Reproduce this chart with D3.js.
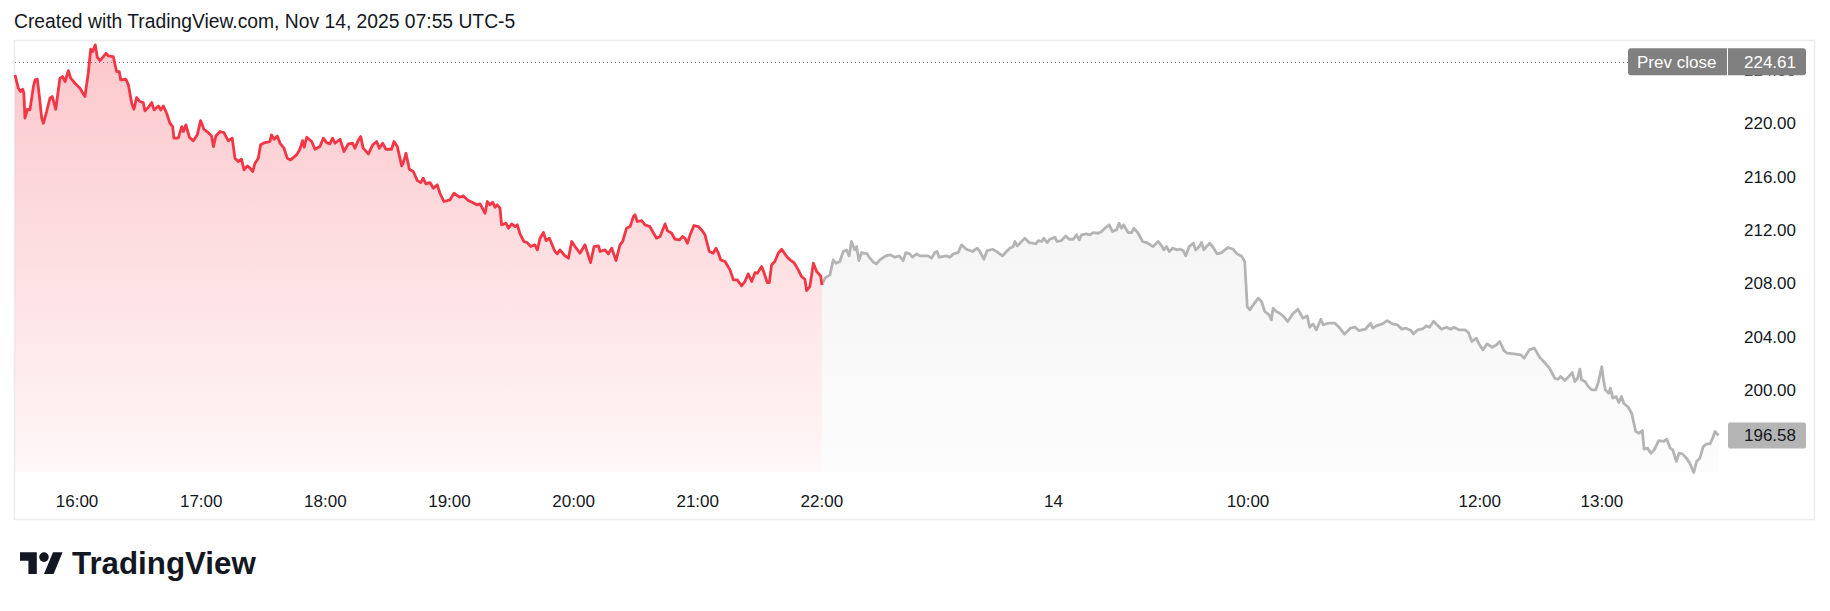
<!DOCTYPE html>
<html lang="en">
<head>
  <meta charset="utf-8">
  <script src="https://cdnjs.cloudflare.com/ajax/libs/d3/7.8.5/d3.min.js"></script>
  <style>
    body {
      margin: 0;
      background: #fff;
      font-family: "Liberation Sans", Arial, sans-serif;
    }
    .axis-label {
      font-size: 17px;
      fill: #131722;
    }
    #title {
      font-size: 19.3px;
      fill: #131722;
    }
  </style>
</head>
<body>
  <svg id="chart" width="1830" height="611"></svg>
  <script>
    // bar index (minutes from first bar, TradingView style) and price
    var regularSession = [[0,223.63],[1.6,222.63],[2.7,222.38],[3.7,222.55],[4.3,222.25],[4.8,220.38],[6,221.05],[7.2,221],[8.9,222.75],[9.7,223.25],[10.8,223.3],[11.8,222],[12.9,220.38],[13.7,220],[15.3,220.88],[16.9,221.88],[18,222],[19.7,221.05],[21.7,223.38],[23,223.5],[24.2,223.13],[25.8,223.95],[26.9,223.38],[29,223],[31.4,222.63],[33.8,222],[35.4,223.75],[36.6,225.55],[37.5,225.38],[38.8,225.88],[39.8,224.95],[41.1,224.7],[42.7,225],[44,225.25],[45.1,225.05],[47.5,225],[49.1,223.88],[50.4,223.88],[51.1,223.25],[53.6,223.3],[54.8,222.88],[56.4,221.5],[57.5,221.05],[58.8,221.93],[60.4,221.63],[62,221.55],[62.8,220.93],[64.4,221.18],[66.1,221.55],[67.2,221],[69.3,221.3],[70.4,221],[71.7,221.3],[73.3,220.75],[74.9,220],[76.2,219.75],[76.8,218.88],[78.9,218.88],[80.6,219.75],[81.4,219.38],[82.6,219.88],[84.3,218.95],[86.2,218.68],[88.1,219.13],[89.7,220.2],[91.3,219.55],[93.4,219.3],[95,219.05],[95.9,218.25],[97.1,219.05],[99.1,219.38],[101,219.3],[103.1,218.68],[105,218.88],[106.3,217.38],[107.9,217.13],[109.5,217.3],[110.7,216.5],[112.3,216.8],[113.6,216.63],[114.9,216.38],[116,217],[117.6,217.38],[118.7,218.38],[120.8,218.55],[123.2,218.63],[124,219.13],[125.2,218.8],[126.8,219.05],[128.1,218.5],[130,218.13],[131.6,217.38],[133.2,217.25],[136.1,217.63],[137.7,218.05],[139,218.7],[139.8,218.2],[141,218.95],[143.4,218.63],[145,218.05],[147.4,218.25],[149,218.88],[150.6,218.55],[152.2,218.45],[153.5,218.88],[154.7,218.5],[157.1,218.8],[159,217.88],[161.1,218.45],[163.2,218.5],[164.3,218.13],[165.9,218.7],[167.1,219],[168.3,218.13],[170.8,217.7],[172.9,218.38],[174.8,218.63],[176.1,218.13],[177.7,218.5],[179.3,218.05],[182,218.05],[183.2,218.63],[184.8,218.25],[186.9,216.8],[187.7,217.05],[189,217.75],[190.6,216.55],[192.5,216.38],[194.5,215.7],[196.1,215.55],[197.3,215.88],[198.6,215.45],[200.6,215.55],[202.2,215.13],[204.1,215.38],[205.4,214.75],[207.3,214.13],[210.2,214.25],[212.2,214.75],[214.8,214.45],[216.7,214.55],[219.1,214.2],[221.2,214.05],[223.2,213.88],[224.8,213.95],[227.2,213.25],[228.3,214.13],[229.6,213.88],[230.9,214.08],[232,213.7],[233.1,213.88],[234.4,213.63],[235.2,212.38],[237.3,212.5],[238.5,212.13],[240.1,212.45],[241.7,212.25],[242.8,212.38],[244.1,211.7],[246,211.13],[247.6,211.05],[249.3,210.75],[251.3,210.88],[252.5,210.5],[253.8,211.38],[255.4,211.8],[256.7,211.2],[258.3,211.38],[261,210.38],[262.1,210.2],[263.4,210.5],[265.8,210.05],[267.5,209.88],[269.1,211.13],[270.7,210.75],[273.1,210.25],[275.5,210.88],[278.2,209.55],[279.9,210.75],[282,210.8],[282.8,210.38],[285.2,210.5],[286.8,210.2],[288.4,210.63],[290.5,209.7],[292.4,210.88],[293.7,211.13],[295.6,212.13],[297.3,212.25],[298.9,213],[299.7,213.13],[300.8,212.63],[302.9,212.7],[304.5,212.38],[306.9,212.25],[308.2,211.88],[310.1,211.38],[311.8,211.5],[314.2,212.45],[315.3,211.95],[317.4,211.75],[319,211.3],[321.1,211.25],[322.7,211.5],[323.8,211.38],[325,211],[326.3,211.63],[328.2,212.33],[330.3,212.25],[331.9,212],[333.5,211.63],[335.6,210.38],[337.5,210.25],[338.8,210.63],[340,210.25],[341.1,209.75],[343.2,209.63],[345.6,209],[347.2,208.25],[349.1,208.25],[351.2,207.8],[352.8,208.13],[354.4,208.7],[356.1,208.13],[357.7,208.8],[358.8,208.75],[360.9,209.25],[362,208.8],[363.6,208.05],[364.6,208.05],[365.7,209.38],[367.3,209.63],[368.9,210.25],[370.6,210.55],[373,210],[374.6,209.75],[376.5,209.55],[378.6,209],[380.2,208.5],[381.8,208.3],[382.6,207.45],[384.2,207.75],[385.9,209.5],[387.5,208.88],[389.4,208.55],[390,207.88]];

    var extendedSession = [[390,207.88],[391.5,208.38],[393.9,208.63],[395.5,209.75],[396.8,209.5],[398.7,209.63],[400.3,210.38],[401.9,210.5],[403.2,210.05],[404.3,211.13],[405.9,210.5],[406.8,210.75],[407.9,209.7],[409.2,210.3],[411.9,210.2],[413.2,209.88],[415.1,209.55],[416.4,209.45],[418,209.75],[420.9,210.05],[422.9,210.13],[425.3,209.95],[427.4,210.05],[429.3,209.7],[430.6,210.3],[432.5,210.2],[433.8,209.95],[435.8,210.2],[437.4,210.05],[441.4,210.05],[443,209.88],[444.6,210.3],[445.7,210.38],[446.7,209.95],[450.2,210.05],[451.9,209.95],[453.5,210.2],[455.9,210.3],[457.5,210.88],[459.9,210.55],[462.8,210.38],[465.1,210.63],[466.4,210.38],[468.3,209.8],[469.9,210.45],[472.5,210.55],[474.4,210.38],[477.3,210.05],[479.2,210.38],[480.9,210.63],[482.5,210.75],[483.3,211.13],[484.4,210.8],[486.5,211.13],[488.1,211.38],[490.2,211.05],[492.1,211],[493.4,210.95],[494.6,211.2],[496.2,211.13],[497.3,211.38],[498.9,211.05],[500.2,211.3],[502.6,211.45],[503.7,211.13],[505.8,211.2],[507.9,211.55],[509.5,211.3],[511.5,211.3],[513.1,211.63],[514.4,211.25],[515.5,211.63],[517.9,211.7],[519.5,211.63],[521.1,211.8],[523.6,211.75],[525.2,211.88],[526.8,212.13],[528.9,212.38],[530.5,211.88],[532.4,212],[533.7,212.5],[534.8,212.13],[535.9,212.38],[538,211.8],[539.7,211.8],[540.8,212.13],[542.9,211.75],[545,211.13],[546.9,211.05],[548.8,210.88],[550.1,210.75],[552.6,211.13],[554.2,210.8],[555.3,210.5],[556.6,210.75],[557.9,210.38],[559.5,210.63],[561.7,210.5],[563.3,210.55],[564.6,210.45],[565.9,210.05],[567.5,210.75],[569.5,211],[570.7,210.5],[572.4,210.75],[573.5,211.05],[574.6,210.5],[576.2,210.8],[577.5,211],[579.1,210.7],[581.1,210.2],[583.2,210.3],[584.8,210.5],[586.4,210.68],[588.8,210.55],[590.7,210.2],[592.8,210.05],[594.4,209.63],[595.6,206.25],[596.9,206],[598.5,206.38],[600.9,206.88],[602.5,206.63],[604.1,205.88],[606.2,205.63],[607.3,205.25],[608.1,206.13],[609.7,205.88],[611.3,205.75],[613.2,205.5],[615.2,205.13],[617.6,205.7],[620.1,206.05],[622.5,205.38],[624.6,205.55],[625.8,204.7],[627.4,204.95],[629,204.5],[631.2,205.3],[632.3,204.88],[634.8,205],[638,205],[640,204.7],[642.6,204.18],[645.4,204.63],[647.8,204.7],[649.5,204.45],[652.7,204.55],[655.2,205],[656.3,204.63],[658,204.8],[660.9,204.95],[663.3,205.2],[665.8,204.95],[668.2,204.88],[670.4,204.55],[672.3,204.63],[674.8,204.45],[675.9,204.2],[678,204.5],[680.5,204.58],[682.1,204.8],[683.7,204.7],[685.7,205.15],[687.8,204.8],[689.5,204.55],[691.9,204.7],[693.9,204.55],[695.5,204.7],[698.1,204.5],[700.9,204.5],[702.5,204.3],[704.2,203.63],[706.3,203.88],[707.9,203.38],[709.5,203],[711.5,203.45],[714,203.2],[716.1,203.38],[717.7,203.63],[719.7,202.95],[721.3,202.75],[724.6,202.7],[727.8,202.63],[729.5,202.38],[731.9,203],[734.4,203.13],[736,202.7],[737.3,202.38],[739.3,202.05],[741.7,201.63],[744.2,200.88],[745.8,200.8],[747.1,201],[749.1,200.7],[751,201],[752.7,201.3],[754,200.63],[755.3,200.88],[756.4,201.55],[757.2,200.75],[758.9,200.63],[760.2,200.3],[762.1,200],[764.1,200],[765.4,200.63],[767,201.75],[767.8,200.75],[768.7,200],[770.3,199.75],[771.1,200.13],[772.3,199.38],[773.9,199.5],[775.2,199.05],[776.5,199.5],[777.6,199],[779.8,198.7],[781.4,198.25],[782.5,197.5],[783.4,196.88],[785,196.75],[786.6,196.95],[787.4,195.55],[789.1,195.63],[790.7,195.25],[792.3,195.5],[794.5,196.2],[796.8,196.13],[798.4,196.3],[800,195.63],[801.3,195.5],[803,194.63],[804.3,195.25],[805.9,195.2],[807.9,194.88],[809.5,194.5],[811.4,193.8],[812.8,194.63],[814.4,194.88],[816,195.75],[817.7,195.95],[819.3,195.95],[820.6,196.38],[821.7,196.88],[823.4,196.58]];

    var timeTicks = [30, 90, 150, 210, 270, 330, 390, 502, 596, 708, 767];
    var timeLabels = ["16:00", "17:00", "18:00", "19:00", "20:00", "21:00", "22:00", "14", "10:00", "12:00", "13:00"];
    var priceTicks = [200, 204, 208, 212, 216, 220, 224];
    var prevClose = 224.61;
    var lastPrice = 196.58;

    var svg = d3.select("#chart");

    var x = d3.scaleLinear().domain([0, 827.5]).range([15, 1727]);
    var y = d3.scaleLinear().domain([193.84, 226.17]).range([472, 41]);
    var paneBottom = y.range()[0];

    var defs = svg.append("defs");
    function gradient(id, color, top, bottom) {
      var g = defs.append("linearGradient")
        .attr("id", id)
        .attr("gradientUnits", "userSpaceOnUse")
        .attr("x1", 0).attr("x2", 0)
        .attr("y1", y.range()[1]).attr("y2", paneBottom);
      g.append("stop").attr("offset", 0).attr("stop-color", color).attr("stop-opacity", top);
      g.append("stop").attr("offset", 1).attr("stop-color", color).attr("stop-opacity", bottom);
    }
    gradient("redFill", "#f23645", 0.28, 0.04);
    gradient("grayFill", "#b2b2b2", 0.2, 0.04);

    // the 224.00 tick only peeks out below the prev close label
    defs.append("clipPath").attr("id", "belowLabel")
      .append("rect")
      .attr("x", 1728).attr("y", y(prevClose) + 13.5)
      .attr("width", 90).attr("height", 500);

    // frame
    svg.append("rect")
      .attr("x", 14.5).attr("y", 40.5)
      .attr("width", 1800).attr("height", 479)
      .attr("fill", "none")
      .attr("stroke", "#ececec")
      .attr("stroke-width", 1.5);

    var area = d3.area()
      .x(function(d) { return x(d[0]); })
      .y0(paneBottom)
      .y1(function(d) { return y(d[1]); });

    var line = d3.line()
      .x(function(d) { return x(d[0]); })
      .y(function(d) { return y(d[1]); });

    svg.append("path").datum(regularSession).attr("d", area).attr("fill", "url(#redFill)");
    svg.append("path").datum(extendedSession).attr("d", area).attr("fill", "url(#grayFill)");

    // prev close dotted line
    svg.append("line")
      .attr("x1", x(0)).attr("x2", 1628)
      .attr("y1", Math.round(y(prevClose)) + 0.5).attr("y2", Math.round(y(prevClose)) + 0.5)
      .attr("stroke", "#787b86")
      .attr("stroke-width", 1)
      .attr("stroke-dasharray", "1,3");

    svg.append("path").datum(extendedSession).attr("d", line)
      .attr("fill", "none").attr("stroke", "#b4b4b4").attr("stroke-width", 2.8)
      .attr("stroke-linejoin", "round");
    svg.append("path").datum(regularSession).attr("d", line)
      .attr("fill", "none").attr("stroke", "#f23645").attr("stroke-width", 2.8)
      .attr("stroke-linejoin", "round");

    // price scale
    svg.selectAll(".price-tick")
      .data(priceTicks)
      .enter().append("text")
      .attr("class", "axis-label price-tick")
      .attr("x", 1744)
      .attr("y", function(d) { return y(d) + 6; })
      .attr("clip-path", function(d) { return y(d) - 8 < y(prevClose) + 13.5 ? "url(#belowLabel)" : null; })
      .text(function(d) { return d.toFixed(2); });

    var pc = svg.append("g");
    pc.append("rect")
      .attr("x", 1628).attr("y", y(prevClose) - 13.5)
      .attr("width", 178).attr("height", 27).attr("rx", 3)
      .attr("fill", "#808080");
    pc.append("line")
      .attr("x1", 1727.5).attr("x2", 1727.5)
      .attr("y1", y(prevClose) - 13.5).attr("y2", y(prevClose) + 13.5)
      .attr("stroke", "#fff");
    pc.append("text").attr("class", "axis-label")
      .attr("x", 1637).attr("y", y(prevClose) + 6)
      .style("fill", "#fff").text("Prev close");
    pc.append("text").attr("class", "axis-label")
      .attr("x", 1744).attr("y", y(prevClose) + 6)
      .style("fill", "#fff").text(prevClose.toFixed(2));

    svg.append("rect")
      .attr("x", 1728).attr("y", y(lastPrice) - 13)
      .attr("width", 78).attr("height", 26).attr("rx", 2)
      .attr("fill", "#b4b4b4");
    svg.append("text").attr("class", "axis-label")
      .attr("x", 1744).attr("y", y(lastPrice) + 6)
      .text(lastPrice.toFixed(2));

    // time scale
    svg.selectAll(".time-tick")
      .data(timeTicks)
      .enter().append("text")
      .attr("class", "axis-label time-tick")
      .attr("x", function(d) { return x(d); })
      .attr("y", 507)
      .attr("text-anchor", "middle")
      .text(function(d, i) { return timeLabels[i]; });

    svg.append("text")
      .attr("id", "title")
      .attr("x", 14).attr("y", 28)
      .text("Created with TradingView.com, Nov 14, 2025 07:55 UTC-5");

    // logo
    var logo = svg.append("g").attr("transform", "translate(20,547.5) scale(1.2)").attr("fill", "#131722");
    logo.append("path").attr("d", "M14 22H7V11H0V4h14v18z");
    logo.append("circle").attr("cx", 20).attr("cy", 8).attr("r", 4);
    logo.append("path").attr("d", "M28 22h-8l7.5-18h8L28 22z");
    svg.append("text")
      .attr("x", 72).attr("y", 574)
      .style("font-size", "31.3px")
      .style("font-weight", "bold")
      .style("fill", "#131722")
      .text("TradingView");
  </script>
</body>
</html>
